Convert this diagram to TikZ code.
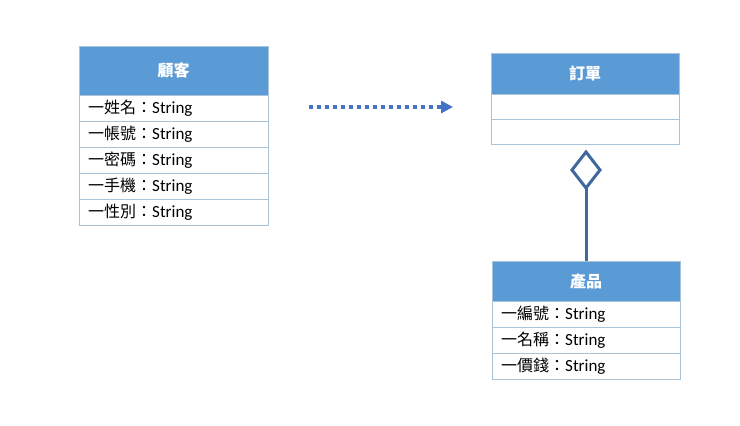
\documentclass[tikz,border=0pt]{standalone}
\usepackage{fontspec}
\setmainfont{Carlito}
\newfontfamily\cjk{Noto Sans CJK TC}
\usetikzlibrary{arrows.meta}
\definecolor{hdr}{HTML}{5B9BD5}
\definecolor{bd}{HTML}{A9C4D8}
\definecolor{ln}{HTML}{4472C4}
\definecolor{dm}{HTML}{41689D}
\newcommand{\rowtxt}[1]{{\cjk\fontsize{16}{18}\selectfont 一#1：}String}
\tikzset{
  hdrbox/.style={draw=bd, fill=hdr, text=white, font=\cjk\bfseries\fontsize{16}{18}\selectfont, minimum width=189pt, minimum height=#1, inner sep=0pt, anchor=north west},
  rowbox/.style={draw=bd, fill=white, font=\fontsize{17}{19}\selectfont, minimum width=189pt, minimum height=26pt, inner sep=0pt, anchor=north west, text width=171pt, align=left},
  emptyrow/.style={draw=bd, fill=white, minimum width=188pt, minimum height=25pt, inner sep=0pt, anchor=north west}
}
\begin{document}
\begin{tikzpicture}[x=1pt,y=-1pt]
\useasboundingbox (0,0) rectangle (740,426);
% Customer
\node[hdrbox=49pt] (cust) at (79,46) {顧客};
\node[rowbox] (c1) at (79,95) {\rowtxt{姓名}};
\node[rowbox] (c2) at (79,121) {\rowtxt{帳號}};
\node[rowbox] (c3) at (79,147) {\rowtxt{密碼}};
\node[rowbox] (c4) at (79,173) {\rowtxt{手機}};
\node[rowbox] (c5) at (79,199) {\rowtxt{性別}};
% Order
\node[hdrbox=41pt, minimum width=188pt] (ord) at (491,53) {訂單};
\node[emptyrow] (o1) at (491,94) {};
\node[emptyrow] (o2) at (491,119) {};
% Product
\node[hdrbox=40pt, minimum width=188pt] (prod) at (492,261) {產品};
\node[rowbox, minimum width=188pt, text width=170pt] (p1) at (492,301) {\rowtxt{編號}};
\node[rowbox, minimum width=188pt, text width=170pt] (p2) at (492,327) {\rowtxt{名稱}};
\node[rowbox, minimum width=188pt, text width=170pt] (p3) at (492,353) {\rowtxt{價錢}};
% dependency arrow
\coordinate (a1) at (309,107);
\coordinate (a2) at (453,107);
\draw[ln, line width=3.5pt, dash pattern=on 3.5pt off 4.5pt, -{Triangle[length=12pt,width=12pt]}] (a1) -- (a2);
% aggregation
\coordinate (dt) at (586,152);
\coordinate (dr) at (600,170);
\coordinate (db) at (586,188);
\coordinate (dl) at (572,170);
\draw[dm, line width=3pt, line join=miter] (dt) -- (dr) -- (db) -- (dl) -- cycle;
\draw[dm, line width=3pt] (db) -- (prod.north -| db);
\end{tikzpicture}
\end{document}
